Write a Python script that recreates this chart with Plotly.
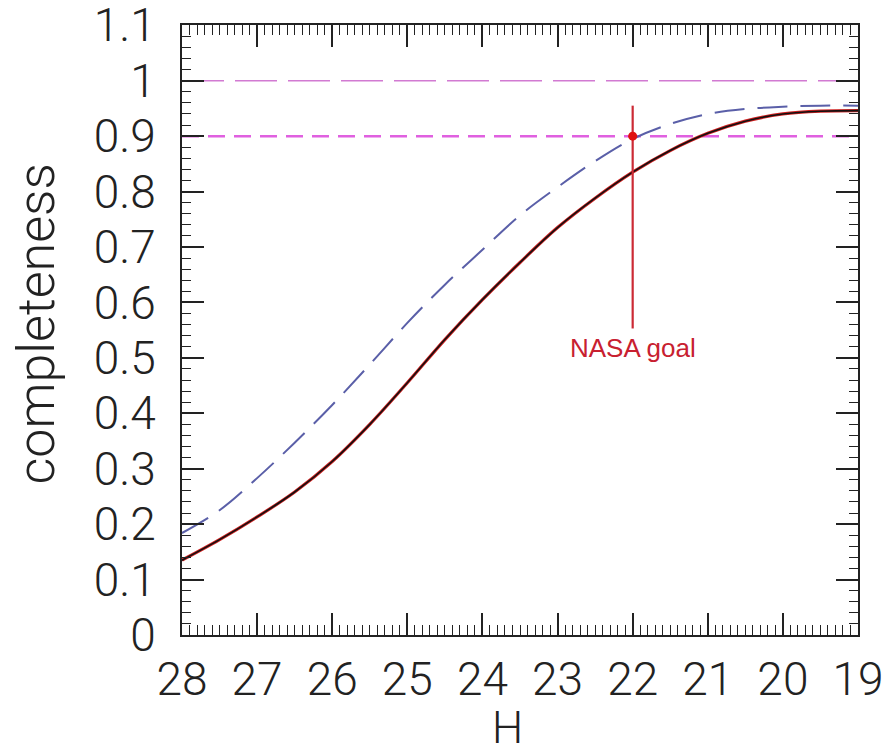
import plotly.graph_objects as go

# Absolute magnitude grid (plotted with the faint end on the left)
H = [28.0, 27.5, 27.0, 26.5, 26.0, 25.5, 25.0, 24.5, 24.0, 23.5,
     23.0, 22.5, 22.0, 21.5, 21.0, 20.5, 20.0, 19.5, 19.0]

# Survey completeness versus H
completeness_solid = [0.135, 0.172, 0.213, 0.258, 0.313, 0.380, 0.455, 0.533, 0.605, 0.672,
                      0.735, 0.788, 0.835, 0.874, 0.905, 0.927, 0.940, 0.945, 0.946]
completeness_dashed = [0.184, 0.225, 0.283, 0.347, 0.415, 0.488, 0.563, 0.632, 0.695, 0.757,
                       0.808, 0.855, 0.895, 0.922, 0.940, 0.949, 0.953, 0.955, 0.955]

# Reference completeness levels
level_full = 1.0
level_goal = 0.9

# NASA goal marker
goal_H = 22.0
goal_completeness = 0.9
goal_bar = [0.553, 0.955]
goal_label = "NASA goal"
goal_label_y = 0.517

y_ticks = [0.0, 0.1, 0.2, 0.3, 0.4, 0.5, 0.6, 0.7, 0.8, 0.9, 1.0, 1.1]
y_ticktext = ["0", "0.1", "0.2", "0.3", "0.4", "0.5", "0.6", "0.7", "0.8", "0.9", "1", "1.1"]
x_ticks = [28, 27, 26, 25, 24, 23, 22, 21, 20, 19]

FONT = "Roboto, Liberation Sans, Arial, sans-serif"

fig = go.Figure()

# horizontal reference levels
fig.add_trace(go.Scatter(x=[H[0], H[-1]], y=[level_full, level_full], mode="lines",
                         line=dict(color="#d27ad2", width=1.5, dash="42px,11px"),
                         hoverinfo="skip"))
fig.add_trace(go.Scatter(x=[H[0], H[-1]], y=[level_goal, level_goal], mode="lines",
                         line=dict(color="#e060e0", width=2.5, dash="17px,9px"),
                         hoverinfo="skip"))

# dashed completeness curve
fig.add_trace(go.Scatter(x=H, y=completeness_dashed, mode="lines",
                         line=dict(color="#5a5fa8", width=2, dash="30px,13px", shape="spline"),
                         hoverinfo="skip"))

# solid completeness curve (red under black)
fig.add_trace(go.Scatter(x=H, y=completeness_solid, mode="lines",
                         line=dict(color="#d02020", width=3.2, shape="spline"),
                         hoverinfo="skip"))
fig.add_trace(go.Scatter(x=H, y=completeness_solid, mode="lines",
                         line=dict(color="#111111", width=1.6, shape="spline"),
                         hoverinfo="skip"))

# NASA goal bar and point
fig.add_trace(go.Scatter(x=[goal_H, goal_H], y=goal_bar, mode="lines",
                         line=dict(color="#cc2a35", width=2.2), hoverinfo="skip"))
fig.add_trace(go.Scatter(x=[goal_H], y=[goal_completeness], mode="markers",
                         marker=dict(color="#e01010", size=9), hoverinfo="skip"))

fig.add_annotation(x=goal_H, y=goal_label_y, text=goal_label, showarrow=False,
                   xanchor="center", yanchor="middle",
                   font=dict(family="Liberation Sans, Arial, sans-serif", size=26,
                             color="#c82030"))

# axis titles
fig.add_annotation(x=0.482, y=-0.152, xref="paper", yref="paper", text="H",
                   showarrow=False, xanchor="center", yanchor="middle",
                   font=dict(family=FONT, size=44, color="#222222", weight=300))
fig.add_annotation(x=-0.215, y=0.51, xref="paper", yref="paper", text="completeness",
                   showarrow=False, textangle=-90, xanchor="center", yanchor="middle",
                   font=dict(family=FONT, size=52, color="#222222", weight=300))

axis_common = dict(showgrid=False, zeroline=False, showline=True, linecolor="#222222",
                   linewidth=2, mirror="allticks", ticks="inside", tickcolor="#222222",
                   tickwidth=1.5, ticklen=22, ticklabeloverflow="allow", automargin=False,
                   tickfont=dict(family=FONT, size=46, color="#222222", weight=300))

fig.update_xaxes(range=[28, 19], tickvals=x_ticks, ticklabelstandoff=3,
                 minor=dict(dtick=0.1, ticks="inside", ticklen=10, tickwidth=1.2,
                            tickcolor="#222222", showgrid=False),
                 **axis_common)
fig.update_yaxes(range=[0, 1.1005], tickvals=y_ticks, ticktext=y_ticktext,
                 ticklabelstandoff=15,
                 minor=dict(dtick=0.02, ticks="inside", ticklen=9, tickwidth=1.2,
                            tickcolor="#222222", showgrid=False),
                 **axis_common)

fig.update_layout(width=889, height=749, showlegend=False,
                  margin=dict(l=182, r=31, t=25, b=114),
                  paper_bgcolor="white", plot_bgcolor="white")

fig.write_html("out.html")
